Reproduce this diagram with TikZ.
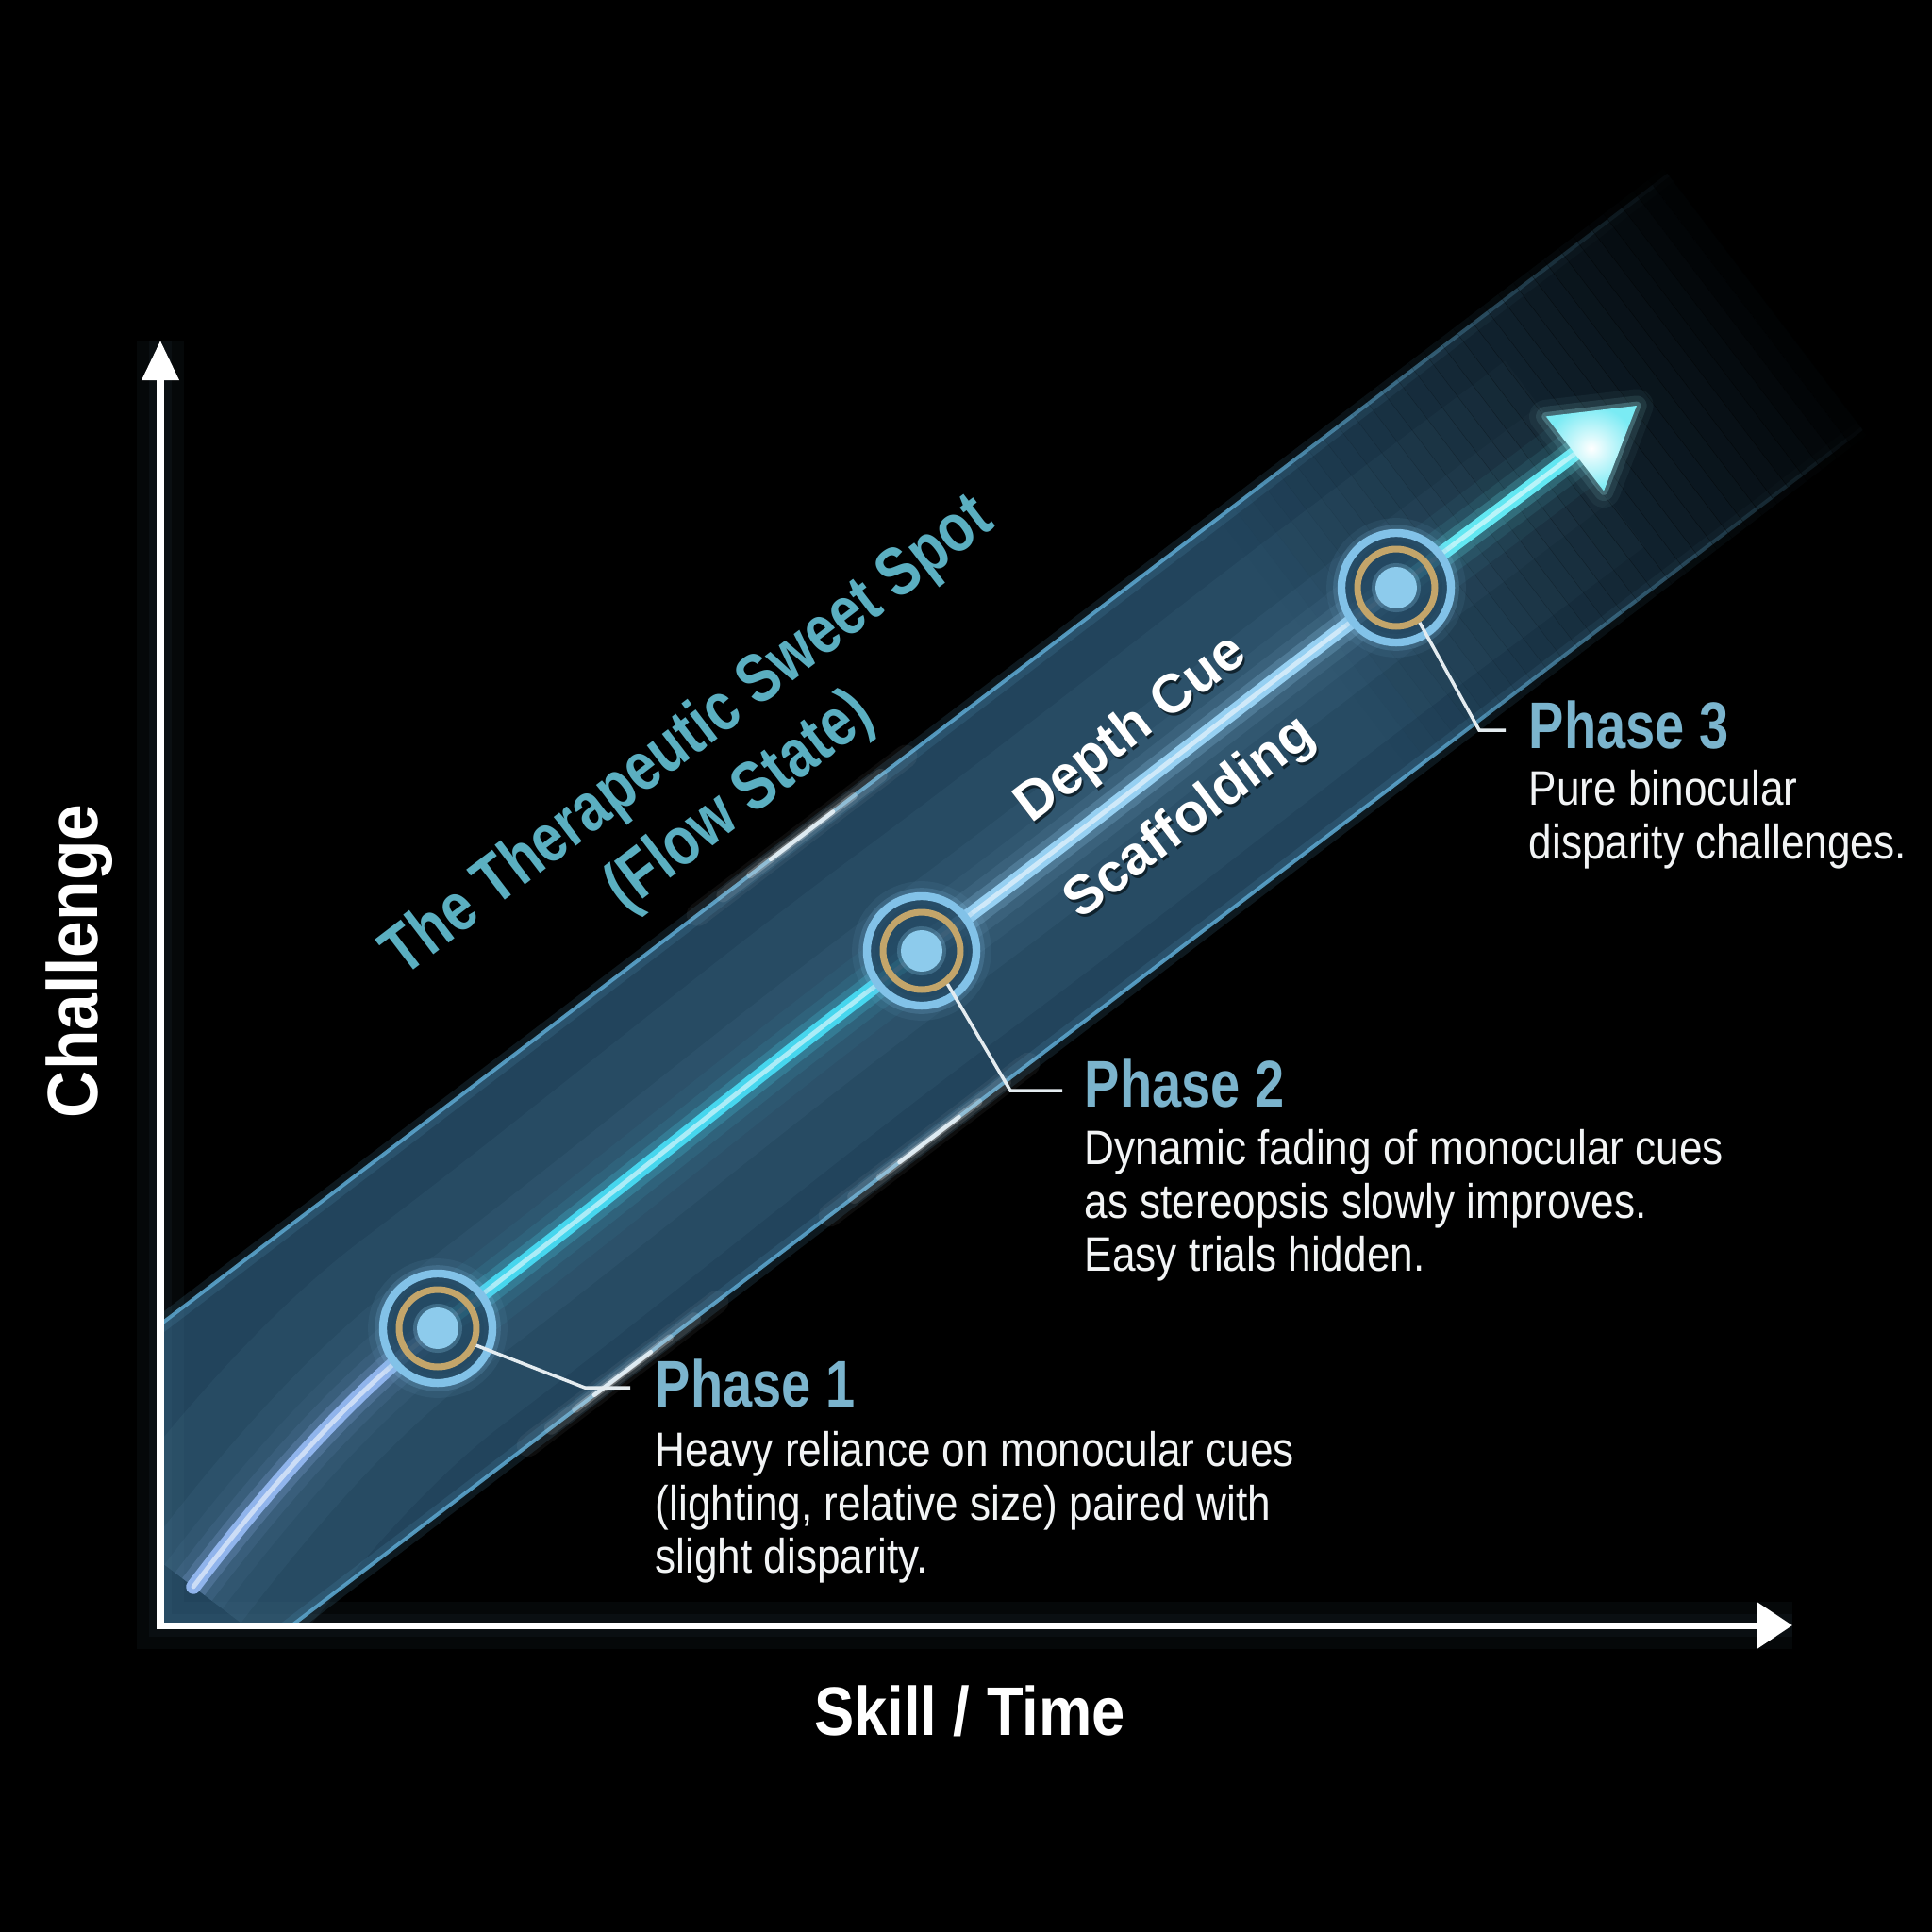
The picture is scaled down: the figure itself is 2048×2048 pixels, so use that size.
\documentclass[tikz,border=0pt]{standalone}
\usepackage{fontspec}
\setmainfont{Liberation Sans}
\newfontfamily\bodyfont[FakeStretch=0.86]{Liberation Sans}
\newfontfamily\phasefont[FakeStretch=0.80]{Liberation Sans}
\newfontfamily\titlefont[FakeStretch=0.81]{Liberation Sans}
\newfontfamily\skillfont[FakeStretch=0.87]{Liberation Sans}
\newfontfamily\chalfont[FakeStretch=0.92]{Liberation Sans}
\usetikzlibrary{arrows.meta,calc}
\definecolor{bandfill}{HTML}{22445C}
\definecolor{bandedge}{HTML}{5AA4CC}
\definecolor{ringblue}{HTML}{82C2E8}
\definecolor{goldc}{HTML}{C3A56A}
\definecolor{discblue}{HTML}{8DCBEC}
\definecolor{innerdark}{HTML}{234862}
\definecolor{seglav}{HTML}{90B4EC}
\definecolor{segcyan}{HTML}{46D6EE}
\definecolor{segblue}{HTML}{96D0F2}
\definecolor{arrowcyan}{HTML}{62E7F2}
\definecolor{phasecol}{HTML}{7BB4CD}
\definecolor{titlecol}{HTML}{5BAFC1}
\definecolor{axisglow}{HTML}{5F8FA5}
\definecolor{leadercol}{HTML}{E4ECF0}
\definecolor{bodywhite}{HTML}{F2F4F5}
\definecolor{shadowc}{HTML}{0A1820}
\tikzset{
  glowline/.style={preaction={draw=#1, line width=22pt, opacity=0.05},
                   preaction={draw=#1, line width=14pt, opacity=0.09},
                   preaction={draw=#1, line width=8.5pt, opacity=0.22},
                   draw=#1, line width=4.4pt, line cap=round},
  coreline/.style={draw=white, line width=1.4pt, opacity=0.55, line cap=round},
  ringout/.style={circle, inner sep=0pt, minimum size=33pt, draw=ringblue, line width=2.4pt,
                  fill=innerdark, fill opacity=0.85,
                  preaction={draw=ringblue, line width=9pt, opacity=0.08},
                  preaction={draw=ringblue, line width=5pt, opacity=0.18}},
  ringgold/.style={circle, inner sep=0pt, minimum size=23.3pt, draw=goldc, line width=2pt},
  ringdisc/.style={circle, inner sep=0pt, minimum size=12.5pt, fill=discblue,
                   preaction={draw=discblue, line width=2.3pt, opacity=0.25}},
  leader/.style={draw=leadercol, line width=1pt, line join=miter},
  axisglowst/.style={draw=axisglow, line width=#1, opacity=0.06},
  axisst/.style={draw=white, line width=2pt, line join=miter},
  bodyt/.style={text=bodywhite, font=\bodyfont\fontsize{14.6}{16}\selectfont, inner sep=0pt},
  phasel/.style={text=phasecol, font=\phasefont\bfseries\fontsize{19.9}{22}\selectfont, inner sep=0pt},
  titlet/.style={text=titlecol, font=\titlefont\bfseries\fontsize{20.7}{24}\selectfont, inner sep=0pt},
  dct/.style={text=white, font=\bfseries\fontsize{16.5}{20}\selectfont, inner sep=0pt},
  dcshadow/.style={text=shadowc, font=\bfseries\fontsize{16.5}{20}\selectfont, inner sep=0pt, opacity=0.8},
}
\newcommand{\glare}[2]{%
  \draw[white, line width=7pt, opacity=0.05, line cap=round] #1 -- #2;
  \draw[white, line width=4pt, opacity=0.10, line cap=round] ($#1!0.12!#2$) -- ($#1!0.88!#2$);
  \draw[white, line width=2.2pt, opacity=0.25, line cap=round] ($#1!0.25!#2$) -- ($#1!0.75!#2$);
  \draw[white, line width=1.3pt, opacity=0.7, line cap=round] ($#1!0.35!#2$) -- ($#1!0.65!#2$);
}
\begin{document}
\begin{tikzpicture}[x=0.01cm,y=-0.01cm]
\useasboundingbox (0,0) rectangle (2048,2048);
\fill[black] (0,0) rectangle (2048,2048);
% key coordinates
\coordinate (O) at (170,1723);
\coordinate (Ytip) at (170,361);
\coordinate (Xtip) at (1900,1723);
\coordinate (UL) at (-68.5,1585.8);
\coordinate (UR) at (1768.7,185.3);
\coordinate (LR) at (1973.7,454.3);
\coordinate (LL) at (136.5,1854.8);
\coordinate (ULx) at (-80.6,1569.9);
\coordinate (URx) at (1756.6,169.4);
\coordinate (LLx) at (148.6,1870.7);
\coordinate (LRx) at (1985.8,470.2);
\coordinate (S) at (205,1682);
\coordinate (P1) at (464,1408);
\coordinate (P2) at (977,1008);
\coordinate (P3) at (1480,623);
\coordinate (AB) at (1669.4,480.9);
\coordinate (AT) at (1735,430);
\coordinate (AC1) at (1700.1,520.4);
\coordinate (AC2) at (1638.7,441.4);
% band
\begin{scope}
  \clip (170,0) rectangle (2048,1723);
  \fill[bandfill] (UL) -- (UR) -- (LR) -- (LL) -- cycle;
  \draw[segblue, line width=70pt, opacity=0.05] (S) .. controls (290,1570) and (380,1470) .. (P1)
     .. controls (640,1275) and (800,1140) .. (P2) .. controls (1150,880) and (1310,750) .. (P3) -- (AB);
  \draw[segblue, line width=36pt, opacity=0.05] (S) .. controls (290,1570) and (380,1470) .. (P1)
     .. controls (640,1275) and (800,1140) .. (P2) .. controls (1150,880) and (1310,750) .. (P3) -- (AB);
  \draw[bandedge, line width=5pt, opacity=0.15] (UL) -- (UR);
  \draw[bandedge, line width=1.1pt, opacity=0.9] (UL) -- (UR);
  \draw[bandedge, line width=5pt, opacity=0.15] (LL) -- (LR);
  \draw[bandedge, line width=1.1pt, opacity=0.9] (LL) -- (LR);
  % glare on the edges
  \glare{(740,969.5)}{(960,801.8)}
  \glare{(880,1288.1)}{(1090,1128.0)}
  \glare{(560,1532)}{(760,1380)}
  \foreach \i in {0,...,29} {
    \pgfmathsetmacro\fa{0.74+\i*0.00867}
    \pgfmathsetmacro\fb{\fa+0.0088}
    \pgfmathsetmacro\op{0.97*((\i+0.5)/30)^1.2}
    \fill[black, opacity=\op] ($(ULx)!\fa!(URx)$) -- ($(ULx)!\fb!(URx)$) -- ($(LLx)!\fb!(LRx)$) -- ($(LLx)!\fa!(LRx)$) -- cycle;
  }
  \fill[black] ($(ULx)!1!(URx)$) -- ($(ULx)!1.2!(URx)$) -- ($(LLx)!1.2!(LRx)$) -- ($(LLx)!1!(LRx)$) -- cycle;
\end{scope}
% curve
\draw[glowline=seglav] (S) .. controls (290,1570) and (380,1470) .. (P1);
\draw[glowline=segcyan] (P1) .. controls (640,1275) and (800,1140) .. (P2);
\draw[glowline=segblue] (P2) .. controls (1150,880) and (1310,750) .. (P3);
\draw[glowline=arrowcyan] (P3) -- (AB);
\draw[coreline] (S) .. controls (290,1570) and (380,1470) .. (P1)
     .. controls (640,1275) and (800,1140) .. (P2) .. controls (1150,880) and (1310,750) .. (P3) -- (AB);
% arrow head
\draw[arrowcyan!60!white, line width=10pt, opacity=0.05, line join=round] (AT) -- (AC1) -- (AC2) -- cycle;
\draw[arrowcyan!60!white, line width=6pt, opacity=0.10, line join=round] (AT) -- (AC1) -- (AC2) -- cycle;
\draw[arrowcyan!60!white, line width=2.5pt, opacity=0.25, line join=round] (AT) -- (AC1) -- (AC2) -- cycle;
\shade[inner color=white, outer color=arrowcyan!85!white] (AT) -- (AC1) -- (AC2) -- cycle;
% phase markers
\node[ringout] (o1) at (P1) {};
\node[ringgold] (g1) at (P1) {};
\node[ringdisc] (d1) at (P1) {};
\node[ringout] (o2) at (P2) {};
\node[ringgold] (g2) at (P2) {};
\node[ringdisc] (d2) at (P2) {};
\node[ringout] (o3) at (P3) {};
\node[ringgold] (g3) at (P3) {};
\node[ringdisc] (d3) at (P3) {};
% leaders
\coordinate (k1) at (620,1471); \coordinate (e1) at (668,1471);
\coordinate (k2) at (1071,1156); \coordinate (e2) at (1126,1156);
\coordinate (k3) at (1568,774); \coordinate (e3) at (1596,774);
\draw[leader] (g1.-24) -- (k1) -- (e1);
\draw[leader] (g2.-52) -- (k2) -- (e2);
\draw[leader] (g3.-56) -- (k3) -- (e3);
% axes
\draw[axisglowst=14pt] (Ytip) -- (O) -- (Xtip);
\draw[axisglowst=7pt] (Ytip) -- (O) -- (Xtip);
\draw[axisst, {Triangle[length=11.95pt,width=10.8pt]}-{Triangle[length=10.5pt,width=13.4pt]}] (Ytip) -- (O) -- (Xtip);
% axis labels
\node[text=white, font=\chalfont\bfseries\fontsize{21.5}{24}\selectfont, inner sep=0pt, rotate=90, anchor=base] (chal) at (103,1019) {Challenge};
\node[text=white, font=\skillfont\bfseries\fontsize{20.7}{24}\selectfont, inner sep=0pt, anchor=base] (skill) at (1028,1839) {Skill / Time};
% zone title
\node[titlet, rotate=37.3, anchor=base] (t1) at (742,797) {The Therapeutic Sweet Spot};
\node[titlet, rotate=37.3, anchor=base] (t2) at (796,866) {(Flow State)};
% band label
\node[dcshadow, rotate=37.3] (dcs) at (1202,777) {Depth Cue};
\node[dct, rotate=37.3] (dc) at (1200,774) {Depth Cue};
\node[dcshadow, rotate=37.3] (scs) at (1264,871) {Scaffolding};
\node[dct, rotate=37.3] (sc) at (1262,868) {Scaffolding};
% phase texts
\node[phasel, anchor=base west] (ph1) at (694,1491) {Phase 1};
\node[bodyt, anchor=base west] (b11) at (694,1554) {Heavy reliance on monocular cues};
\node[bodyt, anchor=base west] (b12) at (694,1611) {(lighting, relative size) paired with};
\node[bodyt, anchor=base west] (b13) at (694,1667) {slight disparity.};
\node[phasel, anchor=base west] (ph2) at (1149,1173) {Phase 2};
\node[bodyt, anchor=base west] (b21) at (1149,1234) {Dynamic fading of monocular cues};
\node[bodyt, anchor=base west] (b22) at (1149,1291) {as stereopsis slowly improves.};
\node[bodyt, anchor=base west] (b23) at (1149,1347) {Easy trials hidden.};
\node[phasel, anchor=base west] (ph3) at (1620,793) {Phase 3};
\node[bodyt, anchor=base west] (b31) at (1620,853) {Pure binocular};
\node[bodyt, anchor=base west] (b32) at (1620,910) {disparity challenges.};
\end{tikzpicture}
\end{document}
